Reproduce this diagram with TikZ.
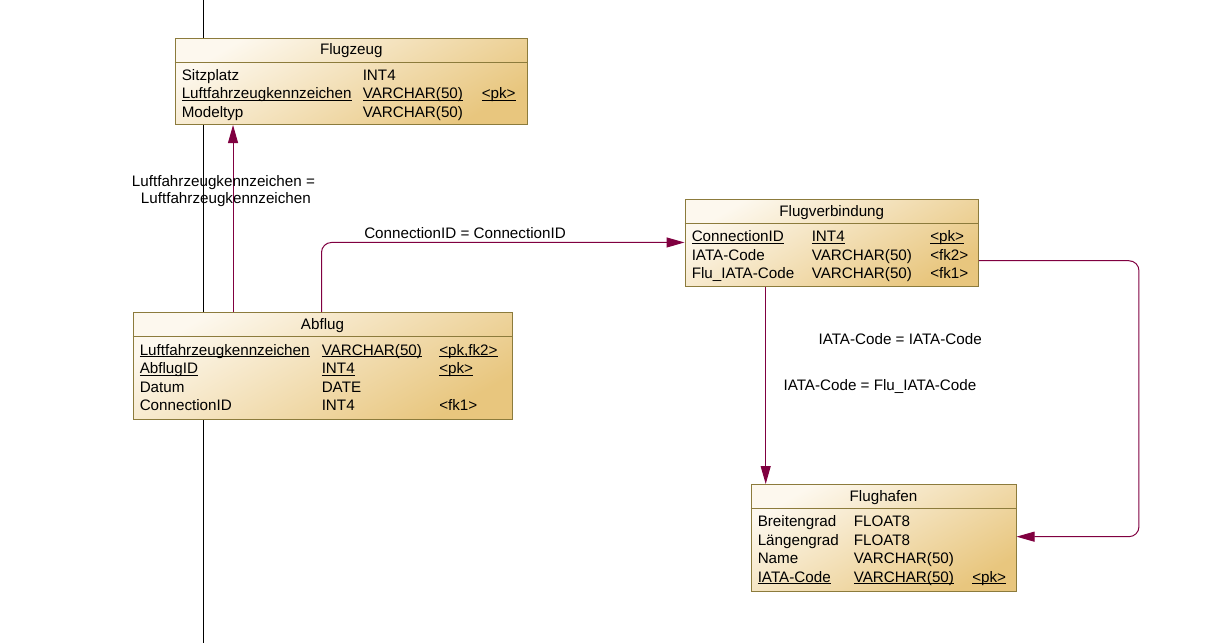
\documentclass[tikz,border=0pt]{standalone}
\usepackage{fontspec}
\setmainfont{Liberation Sans}
\usetikzlibrary{arrows.meta}
\definecolor{relcol}{HTML}{800040}
\definecolor{tabline}{HTML}{8C7B3C}
\definecolor{tablight}{HTML}{FDF8EE}
\definecolor{tabdark}{HTML}{E8C67E}
% underline at a fixed depth, as the tool draws keys
\newcommand\keyul[1]{\setbox0\hbox{#1}\rlap{\rule[-1.6pt]{\wd0}{0.7pt}}\box0}

\begin{document}
\begin{tikzpicture}[x=0.75pt,y=-0.75pt,font=\fontsize{11.4}{13}\selectfont,
	tab/.style={draw=tabline,line width=0.75pt,anchor=north west,inner sep=0pt,
		top color=tablight,bottom color=tabdark,shading angle=30},
	col/.style={anchor=base west,inner sep=0pt},
	head/.style={anchor=base,inner sep=0pt},
	rel/.style={draw=relcol,line width=0.75pt,rounded corners=7.5pt,
		-{Triangle[length=13.5pt,width=7.5pt]}}]
	\useasboundingbox (0,0) rectangle (1222,643);
	\draw[line width=0.75pt] (203.3,0) -- (203.3,643);
	% Flugzeug
	\node[tab,minimum width=264.4pt,minimum height=64.9pt] (fz) at (174.5,37.5) {};
	\draw[tabline,line width=0.75pt] ([yshift=-18.4pt]fz.north west) -- ([yshift=-18.4pt]fz.north east);
	\node[head] (fz-t) at ([yshift=-13.1pt]fz.north) {Flugzeug};
	\node[col] (fz-n1) at (181.5,80) {Sitzplatz};
	\node[col] (fz-d1) at (362.5,80) {INT4};
	\node[col] (fz-n2) at (181.5,98.7) {\keyul{Luftfahrzeugkennzeichen}};
	\node[col] (fz-d2) at (362.5,98.7) {\keyul{VARCHAR(50)}};
	\node[col] (fz-k2) at (481.5,98.7) {\keyul{<pk>}};
	\node[col] (fz-n3) at (181.5,117.3) {Modeltyp};
	\node[col] (fz-d3) at (362.5,117.3) {VARCHAR(50)};
	% Abflug
	\node[tab,minimum width=284.25pt,minimum height=79.9pt] (af) at (132.5,312) {};
	\draw[tabline,line width=0.75pt] ([yshift=-18.4pt]af.north west) -- ([yshift=-18.4pt]af.north east);
	\node[head] (af-t) at ([yshift=-13.1pt]af.north) {Abflug};
	\node[col] (af-n1) at (139.5,355) {\keyul{Luftfahrzeugkennzeichen}};
	\node[col] (af-d1) at (321.5,355) {\keyul{VARCHAR(50)}};
	\node[col] (af-k1) at (439,355) {\keyul{<pk,fk2>}};
	\node[col] (af-n2) at (139.5,373.5) {\keyul{AbflugID}};
	\node[col] (af-d2) at (321.5,373.5) {\keyul{INT4}};
	\node[col] (af-k2) at (439,373.5) {\keyul{<pk>}};
	\node[col] (af-n3) at (139.5,392) {Datum};
	\node[col] (af-d3) at (321.5,392) {DATE};
	\node[col] (af-n4) at (139.5,410.7) {ConnectionID};
	\node[col] (af-d4) at (321.5,410.7) {INT4};
	\node[col] (af-k4) at (439,410.7) {<fk1>};
	% Flugverbindung
	\node[tab,minimum width=220.1pt,minimum height=65.25pt] (fv) at (684.5,199) {};
	\draw[tabline,line width=0.75pt] ([yshift=-18.2pt]fv.north west) -- ([yshift=-18.2pt]fv.north east);
	\node[head] (fv-t) at ([yshift=-12.9pt]fv.north) {Flugverbindung};
	\node[col] (fv-n1) at (691.5,241.5) {\keyul{ConnectionID}};
	\node[col] (fv-d1) at (811.5,241.5) {\keyul{INT4}};
	\node[col] (fv-k1) at (930,241.5) {\keyul{<pk>}};
	\node[col] (fv-n2) at (691.5,260) {IATA-Code};
	\node[col] (fv-d2) at (811.5,260) {VARCHAR(50)};
	\node[col] (fv-k2) at (930,260) {<fk2>};
	\node[col] (fv-n3) at (691.5,278.5) {Flu\_IATA-Code};
	\node[col] (fv-d3) at (811.5,278.5) {VARCHAR(50)};
	\node[col] (fv-k3) at (930,278.5) {<fk1>};
	% Flughafen
	\node[tab,minimum width=198.75pt,minimum height=79.9pt] (fh) at (750.5,484) {};
	\draw[tabline,line width=0.75pt] ([yshift=-18.2pt]fh.north west) -- ([yshift=-18.2pt]fh.north east);
	\node[head] (fh-t) at ([yshift=-12.9pt]fh.north) {Flughafen};
	\node[col] (fh-n1) at (757.5,526.5) {Breitengrad};
	\node[col] (fh-d1) at (853.5,526.5) {FLOAT8};
	\node[col] (fh-n2) at (757.5,545) {Längengrad};
	\node[col] (fh-d2) at (853.5,545) {FLOAT8};
	\node[col] (fh-n3) at (757.5,563.5) {Name};
	\node[col] (fh-d3) at (853.5,563.5) {VARCHAR(50)};
	\node[col] (fh-n4) at (757.5,582) {\keyul{IATA-Code}};
	\node[col] (fh-d4) at (853.5,582) {\keyul{VARCHAR(50)}};
	\node[col] (fh-k4) at (972,582) {\keyul{<pk>}};
	% references
	\draw[rel] ([xshift=75.4pt]af.north west) -- ([xshift=75.4pt]af.north west |- fz.south);
	\node[col] (r1a) at (131.7,186) {Luftfahrzeugkennzeichen =};
	\node[col] (r1b) at (140.7,203.3) {Luftfahrzeugkennzeichen};
	\draw[rel] ([xshift=141.75pt]af.north west) |- ([yshift=-32.6pt]fv.north west);
	\node[col] (r2) at (364,238.5) {ConnectionID = ConnectionID};
	\draw[rel] ([xshift=60.9pt]fv.south west) -- ([xshift=60.9pt]fv.south west |- fh.north);
	\node[col] (r3) at (783.3,390) {IATA-Code = Flu\_IATA-Code};
	\draw[rel] ([yshift=-46.3pt]fv.north east) -- ++(160,0) |- ([yshift=-39.5pt]fh.north east);
	\node[col] (r4) at (818.3,344) {IATA-Code = IATA-Code};
\end{tikzpicture}
\end{document}
